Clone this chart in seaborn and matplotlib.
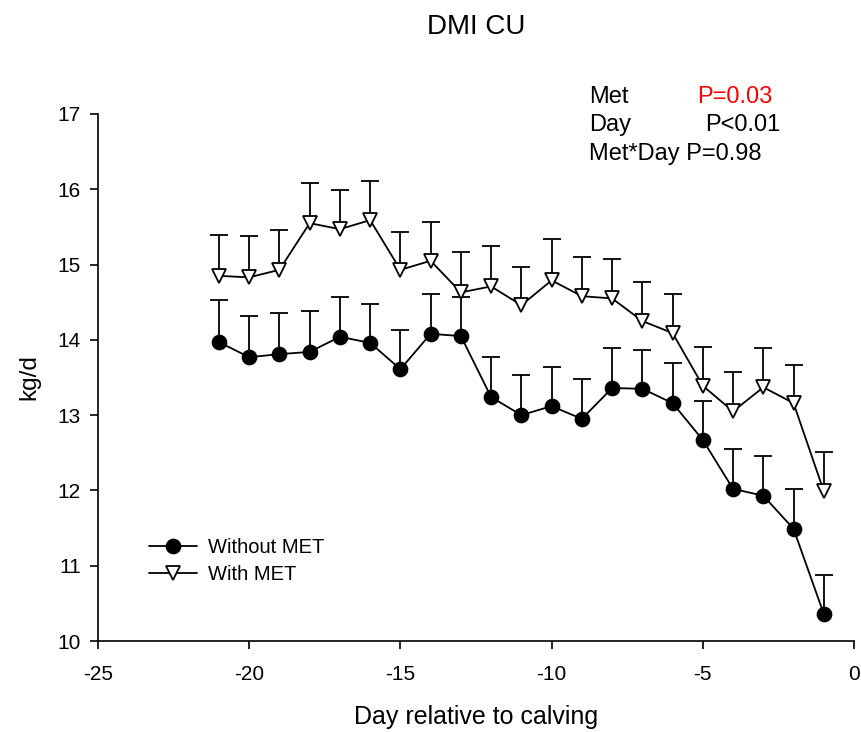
import numpy as np
import pandas as pd
import matplotlib
matplotlib.use("Agg")
import matplotlib.pyplot as plt
import seaborn as sns

# Days relative to calving
days = [-21, -20, -19, -18, -17, -16, -15, -14, -13, -12, -11,
        -10, -9, -8, -7, -6, -5, -4, -3, -2, -1]

# DMI (kg/d)
without_met = [13.97, 13.77, 13.81, 13.84, 14.04, 13.96, 13.61, 14.08, 14.05, 13.24, 13.00,
               13.12, 12.95, 13.36, 13.35, 13.16, 12.67, 12.02, 11.93, 11.49, 10.36]
without_se = [0.56, 0.55, 0.55, 0.54, 0.53, 0.52, 0.52, 0.53, 0.52, 0.53, 0.53,
              0.52, 0.53, 0.53, 0.52, 0.53, 0.52, 0.53, 0.53, 0.53, 0.52]

with_met = [14.85, 14.83, 14.93, 15.55, 15.47, 15.59, 14.93, 15.05, 14.63, 14.71, 14.46,
            14.79, 14.58, 14.55, 14.25, 14.09, 13.39, 13.05, 13.37, 13.16, 11.99]
with_se = [0.54, 0.55, 0.53, 0.53, 0.52, 0.52, 0.50, 0.51, 0.54, 0.54, 0.51,
           0.55, 0.52, 0.52, 0.52, 0.52, 0.51, 0.52, 0.52, 0.51, 0.52]

df = pd.DataFrame({
    "Day": days * 2,
    "DMI": without_met + with_met,
    "SE": without_se + with_se,
    "Group": ["Without MET"] * len(days) + ["With MET"] * len(days),
})

sns.set_theme(style="ticks")
plt.rcParams["font.family"] = ["Liberation Sans", "DejaVu Sans"]
plt.rcParams["axes.unicode_minus"] = False
plt.rcParams["text.color"] = "black"
plt.rcParams["axes.labelcolor"] = "black"

fig = plt.figure(figsize=(8.61, 7.32), dpi=100)
ax = fig.add_axes([0.1138, 0.1243, 0.8781, 0.72])

marker_style = {
    "Without MET": dict(marker="o", markerfacecolor="black", markeredgecolor="black"),
    "With MET": dict(marker="v", markerfacecolor="white", markeredgecolor="black"),
}

for grp, sub in df.groupby("Group", sort=False):
    # upper-only error bars, drawn behind the markers
    eb = ax.errorbar(sub["Day"], sub["DMI"], yerr=[np.zeros(len(sub)), sub["SE"]],
                     fmt="none", ecolor="black", elinewidth=1.3, capsize=6.2,
                     capthick=1.3, zorder=2)
    caps = eb.lines[1]
    if len(caps) == 2:
        caps[0].set_visible(False)  # hide the cap sitting on the mean
    sns.lineplot(data=sub, x="Day", y="DMI", ax=ax, color="black",
                 linewidth=1.3, markersize=10, markeredgewidth=1.3,
                 label=grp, zorder=3, **marker_style[grp])

ax.set_xlim(-25, 0)
ax.set_ylim(10, 17)
ax.set_xticks([-25, -20, -15, -10, -5, 0])
ax.set_yticks(range(10, 18))
ax.tick_params(axis="both", direction="out", length=5.8, width=1.2,
               labelsize=15, colors="black")
ax.tick_params(axis="x", pad=11.5)
ax.tick_params(axis="y", pad=6.5)
for s in ["left", "bottom"]:
    ax.spines[s].set_linewidth(1.2)
    ax.spines[s].set_color("black")
sns.despine(ax=ax)

ax.set_xlabel("Day relative to calving", fontsize=18, labelpad=15)
ax.set_ylabel("kg/d", fontsize=17.5, labelpad=12)

ax_mid = 0.1138 + 0.8781 / 2
fig.text(ax_mid, 1 - 34 / 732, "DMI CU", fontsize=20, ha="center", va="baseline")

# statistics annotation
fig.text(589 / 861, 1 - 103 / 732, "Met", fontsize=17, va="baseline")
fig.text(697 / 861, 1 - 103 / 732, "P=0.03", fontsize=17, va="baseline", color="red")
fig.text(589 / 861, 1 - 131 / 732, "Day", fontsize=17, va="baseline")
fig.text(705 / 861, 1 - 131 / 732, "P<0.01", fontsize=17, va="baseline")
fig.text(589 / 861, 1 - 160 / 732, "Met*Day P=0.98", fontsize=17, va="baseline")

ax.legend(loc="upper left", bbox_to_anchor=(0.0675, 0.196), frameon=False,
          fontsize=14.5, handlelength=2.4, handletextpad=0.55,
          labelspacing=0.42, borderaxespad=0, borderpad=0)

fig.savefig("out.png", dpi=100)
plt.close(fig)
